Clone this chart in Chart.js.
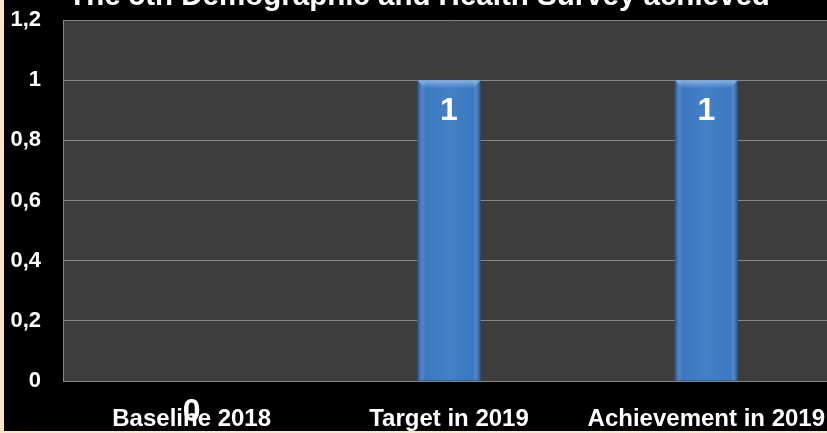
<!DOCTYPE html>
<html>
<head>
<meta charset="utf-8">
<script src="https://cdn.jsdelivr.net/npm/chart.js@4"></script>
<style>
  html, body { margin: 0; padding: 0; width: 827px; height: 433px; overflow: hidden; background: #fde3c8; }
  #frame { position: absolute; left: 4px; top: 0; width: 823px; height: 431px; background: #000; overflow: hidden; }
  #frame canvas { position: absolute; left: 0; top: 0; }
</style>
</head>
<body>
<div id="frame"><canvas id="surveyChart" width="840" height="431"></canvas></div>
<script>
// chart data
const titleText = 'The 5th Demographic and Health Survey achieved';
const categories = ['Baseline 2018', 'Target in 2019', 'Achievement in 2019'];
const surveyValues = [0, 1, 1];
const yTickLabels = ['0', '0,2', '0,4', '0,6', '0,8', '1', '1,2'];

const FONT = '"Liberation Sans", Arial, sans-serif';

// title is partly cut off at the top in the original, so draw it by hand
const titlePlugin = {
    id: 'cutTitle',
    afterDraw(chart) {
        const ctx = chart.ctx;
        ctx.save();
        ctx.fillStyle = '#ffffff';
        ctx.font = 'bold 29.5px ' + FONT;
        ctx.textAlign = 'center';
        ctx.textBaseline = 'alphabetic';
        ctx.fillText(titleText, 415, 5);
        ctx.restore();
    }
};

// plot area fill
const plotBgPlugin = {
    id: 'plotBg',
    beforeDraw(chart) {
        const a = chart.chartArea;
        const ctx = chart.ctx;
        ctx.save();
        ctx.fillStyle = '#3c3d3c';
        ctx.fillRect(a.left, a.top, a.right - a.left, a.bottom - a.top);
        ctx.restore();
    }
};

// bevel shading on bars + value labels
const barLookPlugin = {
    id: 'barLook',
    afterDatasetsDraw(chart) {
        const ctx = chart.ctx;
        const meta = chart.getDatasetMeta(0);
        meta.data.forEach((bar, i) => {
            const w = bar.width;
            const left = bar.x - w / 2;
            const h = bar.base - bar.y;
            if (h > 0) {
                ctx.save();
                const g = ctx.createLinearGradient(left, 0, left + w, 0);
                g.addColorStop(0, 'rgba(10,40,90,0.55)');
                g.addColorStop(0.12, 'rgba(255,255,255,0.0)');
                g.addColorStop(0.5, 'rgba(255,255,255,0.06)');
                g.addColorStop(0.88, 'rgba(255,255,255,0.0)');
                g.addColorStop(1, 'rgba(10,40,90,0.55)');
                ctx.fillStyle = g;
                ctx.fillRect(left, bar.y, w, h);
                // top bevel
                const tg = ctx.createLinearGradient(0, bar.y, 0, bar.y + 8);
                tg.addColorStop(0, 'rgba(160,200,245,0.75)');
                tg.addColorStop(1, 'rgba(160,200,245,0)');
                ctx.fillStyle = tg;
                ctx.beginPath();
                ctx.moveTo(left, bar.y);
                ctx.lineTo(left + w, bar.y);
                ctx.lineTo(left + w - 7, bar.y + 8);
                ctx.lineTo(left + 7, bar.y + 8);
                ctx.closePath();
                ctx.fill();
                ctx.restore();
            }
        });
    },
    afterDraw(chart) {
        const ctx = chart.ctx;
        const meta = chart.getDatasetMeta(0);
        ctx.save();
        ctx.fillStyle = '#ffffff';
        ctx.font = 'bold 32px ' + FONT;
        ctx.textAlign = 'center';
        ctx.textBaseline = 'middle';
        meta.data.forEach((bar, i) => {
            ctx.fillText(String(surveyValues[i]).replace('.', ','), bar.x, bar.y + 31);
        });
        ctx.restore();
    }
};

const ctx = document.getElementById('surveyChart').getContext('2d');
window.surveyChart = new Chart(ctx, {
    type: 'bar',
    data: {
        labels: categories,
        datasets: [{
            data: surveyValues,
            backgroundColor: '#3a78c2',
            borderWidth: 0,
            categoryPercentage: 1,
            barPercentage: 0.245
        }]
    },
    options: {
        responsive: false,
        animation: false,
        layout: { padding: { top: 20, right: 9, left: 0, bottom: 0 } },
        plugins: {
            legend: { display: false },
            title: { display: false },
            tooltip: { enabled: false }
        },
        scales: {
            x: {
                afterFit: s => { s.height = 50; },
                // invisible tick marks used as spacing, so label padding doesn't shift the plot
                grid: { color: 'transparent', tickColor: 'transparent', drawTicks: true, tickLength: 24 },
                border: { display: false },
                ticks: {
                    color: '#ffffff',
                    font: { family: FONT, size: 24, weight: 'bold' },
                    padding: 0,
                    maxRotation: 0,
                    autoSkip: false
                }
            },
            y: {
                min: 0,
                max: 1.2,
                afterFit: s => { s.width = 59; },
                grid: { color: '#878787', lineWidth: 1, drawTicks: true, tickLength: 22, tickColor: 'transparent' },
                border: { display: true, color: '#878787', width: 1 },
                ticks: {
                    stepSize: 0.2,
                    color: '#ffffff',
                    font: { family: FONT, size: 22, weight: 'bold' },
                    padding: 0,
                    callback: (v, i) => yTickLabels[i]
                }
            }
        }
    },
    plugins: [plotBgPlugin, barLookPlugin, titlePlugin]
});
</script>
</body>
</html>
